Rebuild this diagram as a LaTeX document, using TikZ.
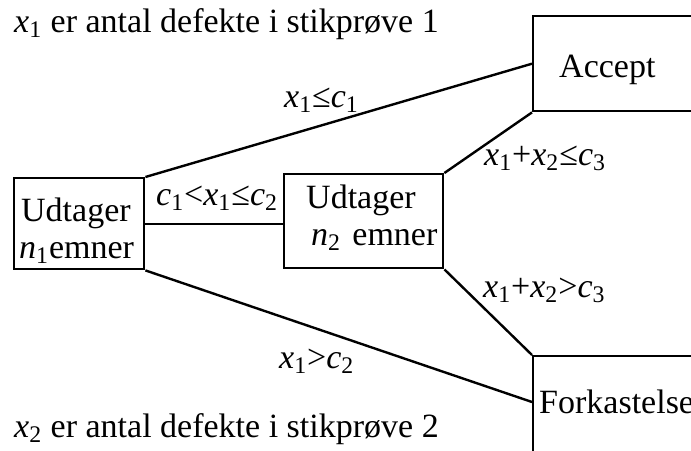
\documentclass[tikz,border=0pt]{standalone}
\usepackage{fontspec}
\setmainfont{Liberation Serif}
\usetikzlibrary{calc,positioning}
\newcommand{\iv}[2]{\textit{#1}\textsubscript{#2}}
\tikzset{
  box/.style={draw, rectangle, inner sep=0pt, align=left},
  lbl/.style={inner sep=0pt, anchor=base west},
}

\begin{document}
\begin{tikzpicture}[x=0.5pt, y=-0.5pt, font=\fontsize{17}{18.5}\selectfont, line width=1.2pt]
            \useasboundingbox (0,0) rectangle (691,450);
            % Boxes
            \node[box, anchor=north west, text width=65pt, text height=21.5pt, text depth=24pt]
            (n1) at (13,177) {\hspace*{3.5pt}Udtager\\\hspace*{2.5pt}\iv{n}{1}emner};
            \node[box, anchor=north west, text width=79.5pt, text height=17pt, text depth=30pt]
            (n2) at (283,173) {\hspace*{11pt}Udtager\\\hspace*{13.5pt}\iv{n}{2} emner};
            \node[box, anchor=north west, text width=90pt, inner xsep=13pt, text height=30.5pt, text depth=17pt]
            (acc) at (532,15) {Accept};
            \node[box, anchor=north west, text width=90pt, inner xsep=3pt, text height=28.5pt, text depth=40pt]
            (fork) at (532,355) {Forkastelse};
            % Connectors
            \draw (n1.north east) -- (acc.west);
            \draw (n1.east) -- (n1.east -| n2.west);
            \draw (n1.south east) -- ($(fork.north west)+(0,47)$);
            \draw (n2.north east) -- (acc.south west);
            \draw (n2.south east) -- (fork.north west);
            % Conditions
            \node[lbl] (l1) at (283,107) {\iv{x}{1}≤\iv{c}{1}};
            \node[lbl] (l2) at (155,205) {\iv{c}{1}<\iv{x}{1}≤\iv{c}{2}};
            \node[lbl] (l3) at (483,165) {\iv{x}{1}+\iv{x}{2}≤\iv{c}{3}};
            \node[lbl] (l4) at (482,297) {\iv{x}{1}+\iv{x}{2}>\iv{c}{3}};
            \node[lbl] (l5) at (278,368) {\iv{x}{1}>\iv{c}{2}};
            % Notes
            \node[lbl] (t1) at (13,32) {\iv{x}{1} er antal defekte i stikprøve 1};
            \node[lbl] (t2) at (13,437) {\iv{x}{2} er antal defekte i stikprøve 2};
\end{tikzpicture}
\end{document}
